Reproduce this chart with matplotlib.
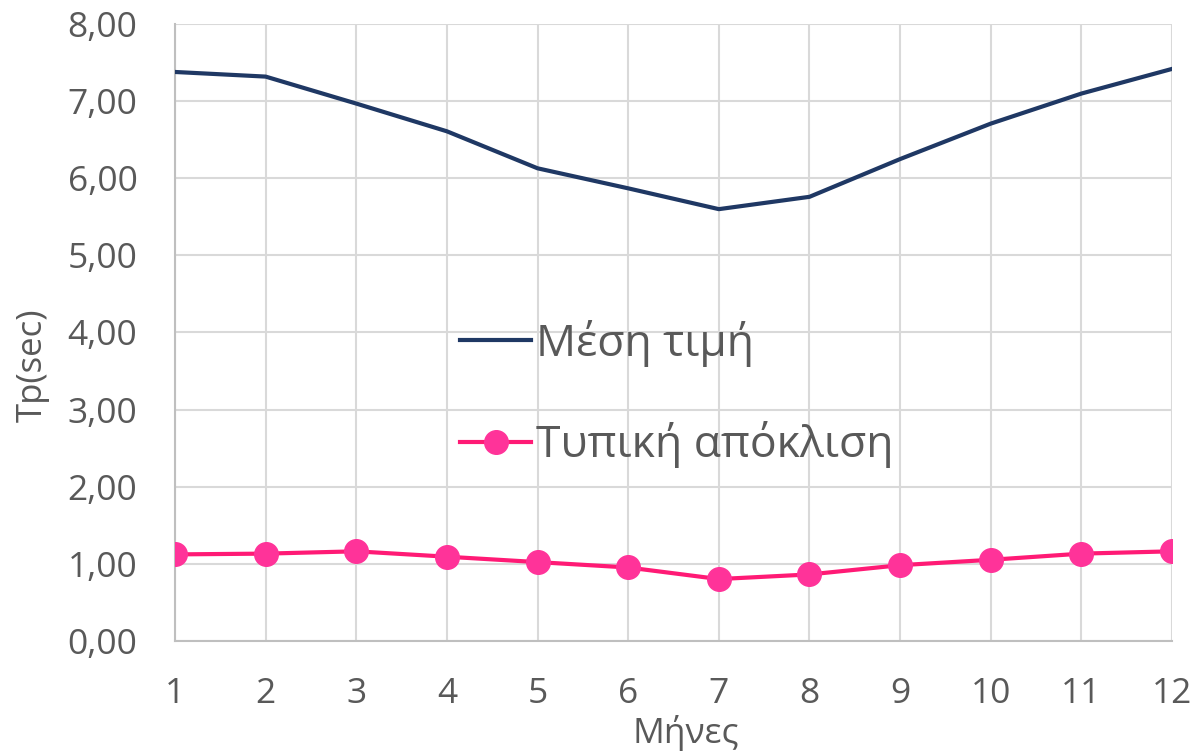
import numpy as np
import matplotlib
matplotlib.use('Agg')
import matplotlib.pyplot as plt
from matplotlib.ticker import FuncFormatter

# Monthly Tp statistics (seconds)
months = [1, 2, 3, 4, 5, 6, 7, 8, 9, 10, 11, 12]
mean_tp = [7.38, 7.32, 6.97, 6.61, 6.13, 5.87, 5.60, 5.76, 6.25, 6.71, 7.10, 7.42]
std_tp = [1.12, 1.13, 1.16, 1.09, 1.02, 0.95, 0.80, 0.86, 0.98, 1.05, 1.13, 1.16]

label_mean = 'Μέση τιμή'
label_std = 'Τυπική απόκλιση'

plt.rcParams['font.family'] = ['Open Sans', 'DejaVu Sans']
text_color = '#595959'
grid_color = '#D9D9D9'

fig = plt.figure(figsize=(11.96, 7.56), dpi=100)
ax = fig.add_axes([0.1463, 0.1525, 0.8337, 0.8155])

ax.plot(months, mean_tp, color='#1F3864', lw=3, label=label_mean, zorder=3)
ax.plot(months, std_tp, color='#FF1A75', lw=3, marker='o', ms=17,
        markerfacecolor='#FF3399', markeredgecolor='#FF3399',
        label=label_std, zorder=3)

ax.set_xlim(1, 12)
ax.set_ylim(0, 8)
ax.set_xticks(months)
ax.set_yticks(np.arange(0, 9, 1))
ax.yaxis.set_major_formatter(FuncFormatter(lambda v, p: f'{v:.2f}'.replace('.', ',')))

ax.grid(True, color=grid_color, lw=1.5, zorder=0)
for side in ['top', 'right']:
    ax.spines[side].set_visible(False)
for side in ['left', 'bottom']:
    ax.spines[side].set_color('#BFBFBF')
    ax.spines[side].set_linewidth(1.5)

ax.tick_params(axis='both', length=0, labelsize=25.5, colors=text_color)
ax.tick_params(axis='x', pad=26)
ax.tick_params(axis='y', pad=27)

ax.set_xlabel('Μήνες', fontsize=25.5, color=text_color, labelpad=0)
ax.xaxis.set_label_coords(0.5125, -0.12)
ax.set_ylabel('Tp(sec)', fontsize=25, color=text_color)
ax.yaxis.set_label_coords(-0.126, 0.446)

leg = ax.legend(loc='center left', bbox_to_anchor=(0.286, 0.40), frameon=False,
                fontsize=32, handlelength=1.6, handletextpad=0.1,
                labelspacing=1.23, borderpad=0, borderaxespad=0)
for t in leg.get_texts():
    t.set_color(text_color)

fig.savefig('out.png', dpi=100)
